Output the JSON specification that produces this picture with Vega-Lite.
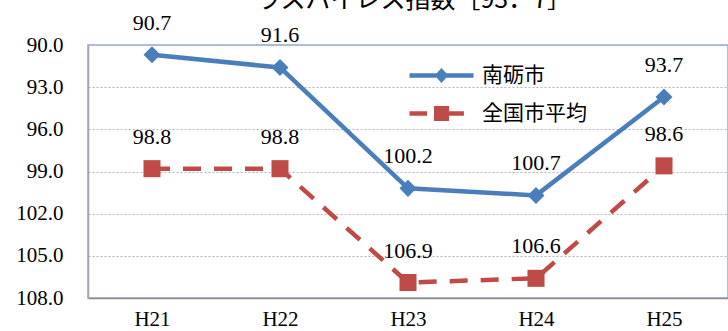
{
  "$schema": "https://vega.github.io/schema/vega-lite/v6.json",
  "width": 640,
  "height": 253,
  "autosize": "none",
  "padding": {"left": 88, "top": 45, "right": 0, "bottom": 33},
  "background": "white",
  "title": {
    "text": "ラスパイレス指数［93．7］",
    "font": "Noto Sans CJK JP",
    "fontSize": 25,
    "fontWeight": "normal",
    "color": "#000000",
    "anchor": "middle",
    "dx": 6,
    "offset": -1
  },
  "config": {
    "view": {"stroke": "#8eaadb", "strokeWidth": 1.5}
  },
  "data": {
    "values": [
      {"year": "H21", "series": "南砺市", "value": 90.7},
      {"year": "H22", "series": "南砺市", "value": 91.6},
      {"year": "H23", "series": "南砺市", "value": 100.2},
      {"year": "H24", "series": "南砺市", "value": 100.7},
      {"year": "H25", "series": "南砺市", "value": 93.7},
      {"year": "H21", "series": "全国市平均", "value": 98.8},
      {"year": "H22", "series": "全国市平均", "value": 98.8},
      {"year": "H23", "series": "全国市平均", "value": 106.9},
      {"year": "H24", "series": "全国市平均", "value": 106.6},
      {"year": "H25", "series": "全国市平均", "value": 98.6}
    ]
  },
  "encoding": {
    "x": {
      "field": "year",
      "type": "ordinal",
      "scale": {"type": "point", "padding": 0.5},
      "axis": {
        "title": null,
        "labelAngle": 0,
        "labelFont": "Liberation Serif",
        "labelFontSize": 21,
        "labelColor": "#000000",
        "ticks": false,
        "labelPadding": 10,
        "domainColor": "#8c8c8c",
        "domainWidth": 1.5,
        "grid": false
      }
    },
    "y": {
      "field": "value",
      "type": "quantitative",
      "scale": {"domain": [90, 108], "reverse": true, "nice": false, "zero": false},
      "axis": {
        "title": null,
        "values": [90, 93, 96, 99, 102, 105, 108],
        "format": ".1f",
        "labelFont": "Liberation Serif",
        "labelFontSize": 21,
        "labelColor": "#000000",
        "ticks": false,
        "labelPadding": 25,
        "domainColor": "#9aa6b8",
        "domainWidth": 1.5,
        "grid": true,
        "gridColor": "#b4b4b4",
        "gridDash": [2, 2],
        "gridWidth": 1
      }
    }
  },
  "layer": [
    {
      "transform": [{"filter": "datum.series === '南砺市'"}],
      "mark": {"type": "line", "strokeWidth": 4.5, "color": "#4a7ebb"}
    },
    {
      "transform": [{"filter": "datum.series === '全国市平均'"}],
      "mark": {"type": "line", "strokeWidth": 4.5, "strokeCap": "butt", "strokeDash": [18, 13], "color": "#be4b48"}
    },
    {
      "transform": [{"filter": "datum.series === '南砺市'"}],
      "mark": {"type": "point", "shape": "diamond", "filled": true, "size": 290, "opacity": 1, "color": "#4a7ebb"}
    },
    {
      "transform": [{"filter": "datum.series === '全国市平均'"}],
      "mark": {"type": "point", "shape": "square", "filled": true, "size": 290, "opacity": 1, "color": "#be4b48"}
    },
    {
      "mark": {"type": "text", "dy": -32, "font": "Liberation Serif", "fontSize": 22, "color": "#000000"},
      "encoding": {"text": {"field": "value", "type": "quantitative", "format": ".1f"}}
    },
    {
      "mark": {"type": "point", "filled": true, "opacity": 0},
      "encoding": {
        "color": {
          "field": "series",
          "type": "nominal",
          "scale": {"domain": ["南砺市", "全国市平均"], "range": ["#4a7ebb", "#be4b48"]},
          "legend": {
            "title": null,
            "orient": "none",
            "legendX": 343,
            "legendY": 20,
            "padding": 0,
            "labelFont": "Noto Sans CJK JP",
            "labelFontSize": 21,
            "labelColor": "#000000",
            "labelOffset": 30,
            "rowPadding": 16,
            "symbolSize": 256,
            "symbolOpacity": 1,
            "symbolStrokeWidth": 0
          }
        },
        "shape": {
          "field": "series",
          "type": "nominal",
          "scale": {
            "domain": ["南砺市", "全国市平均"],
            "range": [
              "M-4,-0.28H4V0.28H-4Z M0,-0.95L0.85,0L0,0.95L-0.85,0Z",
              "M-4,-0.28H-1.8V0.28H-4Z M-0.94,-0.94H0.94V0.94H-0.94Z M0.94,-0.28H2.8V0.28H0.94Z"
            ]
          },
          "legend": {
            "title": null,
            "orient": "none",
            "legendX": 343,
            "legendY": 20,
            "padding": 0,
            "labelFont": "Noto Sans CJK JP",
            "labelFontSize": 21,
            "labelColor": "#000000",
            "labelOffset": 30,
            "rowPadding": 16,
            "symbolSize": 256,
            "symbolOpacity": 1,
            "symbolStrokeWidth": 0
          }
        }
      }
    }
  ]
}
